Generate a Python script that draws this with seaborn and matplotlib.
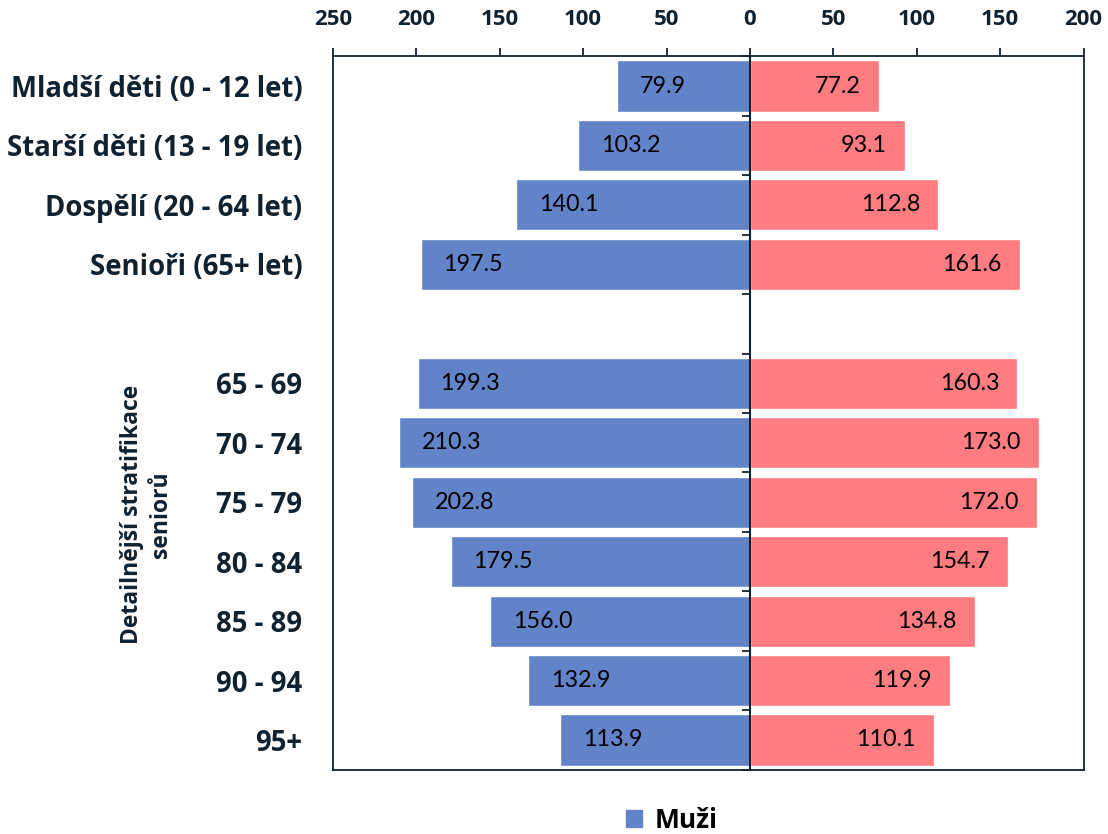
"""
Population pyramid style chart: men (left) vs women (right) per age group.
"""
import matplotlib
matplotlib.use("Agg")
import matplotlib.pyplot as plt
from matplotlib.patches import Patch
import seaborn as sns
import pandas as pd
import numpy as np

# categories (blank entry = empty row between the two blocks)
groups = ["Mladší děti (0 - 12 let)", "Starší děti (13 - 19 let)", "Dospělí (20 - 64 let)",
          "Senioři (65+ let)", " ",
          "65 - 69", "70 - 74", "75 - 79", "80 - 84", "85 - 89", "90 - 94", "95+"]
muzi = [79.9, 103.2, 140.1, 197.5, np.nan, 199.3, 210.3, 202.8, 179.5, 156.0, 132.9, 113.9]
zeny = [77.2, 93.1, 112.8, 161.6, np.nan, 160.3, 173.0, 172.0, 154.7, 134.8, 119.9, 110.1]
xticks = [-250, -200, -150, -100, -50, 0, 50, 100, 150, 200]

BLUE = "#6283c8"
PINK = "#ff7c80"
DARK = "#10222f"

sns.set_theme(style="white")
plt.rcParams["font.family"] = ["Open Sans", "DejaVu Sans"]

df = pd.DataFrame({
    "group": groups * 2,
    "value": [-v for v in muzi] + zeny,
    "sex": ["Muži"] * len(groups) + ["Ženy"] * len(groups),
})

fig = plt.figure(figsize=(11.08, 8.34), dpi=100)
ax = fig.add_axes([0.3005, 0.0771, 0.6775, 0.8554])

sns.barplot(data=df, x="value", y="group", hue="sex", order=groups, orient="h",
            palette={"Muži": BLUE, "Ženy": PINK}, dodge=False, width=0.86,
            saturation=1, legend=False, ax=ax)

ax.set_xlim(-250, 200)
ax.set_ylim(11.5, -0.5)
ax.set_xlabel("")
ax.set_ylabel("")
ax.xaxis.tick_top()
ax.set_xticks(xticks)
ax.set_xticklabels([str(abs(t)) for t in xticks])
ax.tick_params(axis="x", direction="out", length=6, width=1.3, color=DARK,
               labelsize=16, labelcolor=DARK, pad=13)
for lab in ax.get_xticklabels():
    lab.set_fontweight("bold")
ax.tick_params(axis="y", length=0, pad=22, labelsize=19.8, labelcolor=DARK)
for lab in ax.get_yticklabels():
    lab.set_fontweight("bold")
for sp in ax.spines.values():
    sp.set_visible(True)
    sp.set_color(DARK)
    sp.set_linewidth(1.3)
ax.grid(False)

# value labels, inside the bar end
for i, (m, z) in enumerate(zip(muzi, zeny)):
    if np.isnan(m):
        continue
    ax.annotate(f"{m:.1f}", xy=(-m, i), xytext=(16.5, 0), textcoords="offset points",
                ha="left", va="center", fontsize=16.8, color="black", family=["Lato", "DejaVu Sans"])
    ax.annotate(f"{z:.1f}", xy=(z, i), xytext=(-13, 0), textcoords="offset points",
                ha="right", va="center", fontsize=16.8, color="black", family=["Lato", "DejaVu Sans"])

# centre axis with ticks between categories
ax2 = ax.twinx()
ax2.set_ylim(ax.get_ylim())
ax2.yaxis.tick_left()
ax2.spines["left"].set_position(("data", 0))
for name in ["top", "right", "bottom"]:
    ax2.spines[name].set_visible(False)
ax2.spines["left"].set_color(DARK)
ax2.spines["left"].set_linewidth(1.5)
ax2.set_yticks(np.arange(-0.5, len(groups), 1.0))
ax2.set_yticklabels([])
ax2.tick_params(axis="y", direction="out", length=6, width=1.3, color=DARK)
ax2.grid(False)

fig.text(0.132, 0.383, "Detailnější stratifikace\nseniorů", rotation=90, ha="center",
         va="center", fontsize=16.5, fontweight="bold", color=DARK, linespacing=1.3)

fig.legend(handles=[Patch(color=BLUE, label="Muži")], loc="center left",
           bbox_to_anchor=(0.565, 0.016), frameon=False, handlelength=0.6, handleheight=0.6,
           handletextpad=0.5, borderpad=0, borderaxespad=0,
           prop={"size": 19, "weight": "bold"}, labelcolor="black")

fig.savefig("out.png", dpi=100)
